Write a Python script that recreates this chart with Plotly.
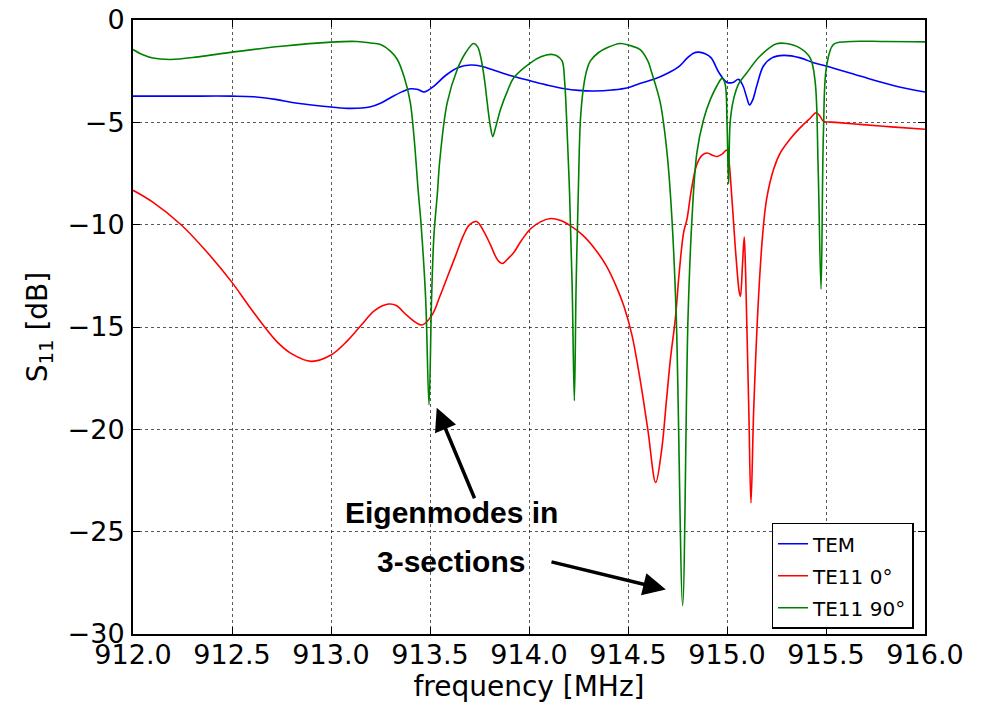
import plotly.graph_objects as go

# ---------------- data ----------------
tem_f = [912.00, 912.25, 912.50, 912.61, 912.72, 912.83, 913.00, 913.10, 913.20, 913.25,
         913.30, 913.36, 913.40, 913.44, 913.47, 913.52, 913.58, 913.64, 913.705, 913.76,
         913.81, 913.90, 914.01, 914.10, 914.18, 914.25, 914.33, 914.42, 914.50, 914.56,
         914.63, 914.70, 914.76, 914.80, 914.83, 914.857, 914.89, 914.92, 914.96, 915.00,
         915.03, 915.058, 915.08, 915.10, 915.114, 915.13, 915.15, 915.184, 915.227, 915.286,
         915.37, 915.437, 915.50, 915.672, 915.84, 916.00]
tem_db = [-3.72, -3.72, -3.72, -3.75, -3.88, -4.07, -4.25, -4.32, -4.24, -4.07,
          -3.80, -3.50, -3.36, -3.40, -3.52, -3.23, -2.70, -2.33, -2.20, -2.26,
          -2.41, -2.70, -2.98, -3.20, -3.36, -3.44, -3.47, -3.42, -3.31, -3.10,
          -2.90, -2.60, -2.25, -1.85, -1.62, -1.57, -1.65, -1.85, -2.58, -3.05,
          -3.05, -2.90, -3.20, -3.80, -4.15, -3.90, -3.23, -2.25, -1.85, -1.73,
          -1.85, -2.09, -2.25, -2.74, -3.20, -3.52]

te0_f = [912.00, 912.10, 912.24, 912.37, 912.50, 912.58, 912.66, 912.73, 912.80, 912.90,
         913.00, 913.08, 913.15, 913.22, 913.29, 913.33, 913.385, 913.46, 913.51, 913.55,
         913.59, 913.63, 913.67, 913.70, 913.735, 913.77, 913.806, 913.84, 913.865, 913.89,
         913.923, 913.96, 914.008, 914.06, 914.109, 914.16, 914.21, 914.27, 914.33, 914.39,
         914.44, 914.48, 914.52, 914.56, 914.60, 914.64, 914.67, 914.695,
         914.715, 914.739, 914.76, 914.781, 914.798, 914.82, 914.848, 914.875, 914.90, 914.93,
         914.95, 914.975, 915.00, 915.01, 915.025, 915.045, 915.062, 915.068, 915.078, 915.087,
         915.093, 915.097, 915.11, 915.121, 915.135, 915.159, 915.18, 915.20, 915.235, 915.27,
         915.32, 915.37, 915.42, 915.45, 915.47, 915.487, 915.55, 915.67, 915.83, 916.00]
te0_db = [-8.32, -8.90, -9.98, -11.30, -12.82, -13.90, -14.94, -15.75, -16.30, -16.68,
          -16.37, -15.70, -14.94, -14.20, -13.88, -13.95, -14.45, -14.90, -14.42, -13.50,
          -12.50, -11.50, -10.50, -10.00, -9.85, -10.30, -11.00, -11.70, -11.90, -11.70,
          -11.36, -10.80, -10.20, -9.85, -9.70, -9.80, -10.06, -10.50, -11.15, -12.00,
          -13.00, -14.00, -15.40, -17.50, -20.00, -22.60, -21.00, -18.50,
          -16.50, -14.60, -12.20, -10.38, -9.73, -8.30, -7.05, -6.60, -6.50, -6.62,
          -6.67, -6.55, -6.35, -6.90, -8.75, -11.50, -13.30, -13.50, -12.00, -10.60,
          -12.00, -13.60, -19.00, -23.60, -19.00, -13.60, -10.50, -8.75, -7.30, -6.48,
          -5.80, -5.26, -4.80, -4.53, -4.70, -4.94, -5.00, -5.10, -5.22, -5.34]

te90_f = [912.00, 912.05, 912.10, 912.19, 912.33, 912.50, 912.75, 913.00, 913.13, 913.20,
          913.25, 913.30, 913.335, 913.37, 913.40, 913.42, 913.44, 913.455, 913.478, 913.495,
          913.508, 913.52, 913.537, 913.55, 913.587, 913.638, 913.68, 913.72, 913.74, 913.755,
          913.775, 913.789, 913.805, 913.817, 913.83, 913.856, 913.89, 913.923, 914.008, 914.06,
          914.109, 914.14, 914.167, 914.18, 914.19, 914.205, 914.218, 914.229, 914.238, 914.25,
          914.26, 914.275, 914.293, 914.31, 914.35, 914.394, 914.46, 914.51, 914.56, 914.60,
          914.62, 914.663, 914.697, 914.722, 914.744, 914.776, 914.803, 914.823, 914.848, 914.882,
          914.916, 914.95, 914.975, 914.99, 915.00, 915.008, 915.016, 915.033, 915.06, 915.10,
          915.167, 915.25, 915.30, 915.367, 915.42, 915.445, 915.46, 915.475, 915.487, 915.503,
          915.537, 915.60, 915.80, 916.00]
te90_db = [-1.44, -1.70, -1.86, -1.93, -1.80, -1.57, -1.28, -1.08, -1.05, -1.12,
           -1.20, -1.52, -1.93, -2.80, -4.00, -5.80, -8.30, -10.00, -13.60, -18.80,
           -13.60, -10.50, -8.50, -6.80, -4.04, -2.41, -1.60, -1.15, -1.30, -1.76,
           -2.90, -4.04, -5.20, -5.70, -5.30, -4.37, -3.50, -2.82, -2.09, -1.80,
           -1.68, -1.75, -2.00, -3.00, -4.85, -8.50, -13.00, -18.60, -13.00, -8.00,
           -4.85, -3.30, -2.41, -2.00, -1.60, -1.36, -1.15, -1.25, -1.44, -2.00,
           -2.58, -4.04, -6.48, -9.73, -14.60, -28.60, -14.60, -9.73, -6.48, -4.85,
           -3.88, -3.20, -2.85, -3.10, -5.00, -8.00, -5.00, -3.88, -3.10, -2.58,
           -1.76, -1.16, -1.15, -1.36, -1.85, -3.00, -7.10, -13.15, -5.50, -2.25,
           -1.20, -1.06, -1.05, -1.07]

x_ticks = [912.0, 912.5, 913.0, 913.5, 914.0, 914.5, 915.0, 915.5, 916.0]
y_ticks = [0, -5, -10, -15, -20, -25, -30]

FONT = "DejaVu Sans"

fig = go.Figure()
for i, (name, xs, ys, col) in enumerate([("TEM", tem_f, tem_db, "#0000ff"),
                                          ("TE11 0°", te0_f, te0_db, "#ff0000"),
                                          ("TE11 90°", te90_f, te90_db, "#008000")]):
    fig.add_trace(go.Scatter(x=xs, y=ys, mode="lines", name=name, legendgroup=f"g{i}",
                             line=dict(color=col, width=1.6, shape="spline", smoothing=1.0)))

axis_common = dict(showline=True, linecolor="black", linewidth=2, mirror="ticks",
                   ticks="inside", ticklen=7, tickwidth=1, tickcolor="black",
                   showgrid=True, gridcolor="rgba(0,0,0,0.65)", gridwidth=1, griddash="dot",
                   zeroline=False, tickfont=dict(family=FONT, size=27, color="black"),
                   automargin=False, ticklabeloverflow="allow")

fig.update_xaxes(range=[912, 916], tickvals=x_ticks,
                 ticktext=[f"{v:.1f}" for v in x_ticks], ticklabelstandoff=-4,
                 title=dict(text="frequency [MHz]", font=dict(family=FONT, size=28, color="black"),
                            standoff=4),
                 **axis_common)
fig.update_yaxes(range=[-30, 0], tickvals=y_ticks, ticklabelstandoff=1,
                 title=dict(text="S<sub>11</sub> [dB]", font=dict(family=FONT, size=28, color="black"),
                            standoff=12),
                 **axis_common)

arrow = dict(showarrow=True, arrowhead=2, arrowsize=1.3, arrowwidth=3.5, arrowcolor="black",
             axref="x", ayref="y", text="")
fig.add_annotation(x=913.534, y=-18.95, ax=913.728, ay=-23.44, **arrow)
fig.add_annotation(x=914.691, y=-27.83, ax=914.106, ay=-26.46, **arrow)

lbl = dict(showarrow=False, xanchor="center", yanchor="middle",
           font=dict(family="Liberation Sans", size=30, color="black", weight="bold"))
fig.add_annotation(x=913.607, y=-24.05, text="<b>Eigenmodes in</b>", **lbl)
fig.add_annotation(x=913.607, y=-26.45, text="<b>3-sections</b>", **lbl)

# the page body adds an 8 px offset, compensated in the margins
fig.update_layout(
    width=990, height=706,
    margin=dict(l=124.5, r=72.5, t=11.5, b=79.5),
    paper_bgcolor="white", plot_bgcolor="white",
    font=dict(family=FONT, color="black"),
    legend=dict(x=0.9855, y=0.0085, xanchor="right", yanchor="bottom",
                bgcolor="white", bordercolor="black", borderwidth=1.5, tracegroupgap=3,
                font=dict(family=FONT, size=20, color="black")),
)

fig.write_html("out.html")
